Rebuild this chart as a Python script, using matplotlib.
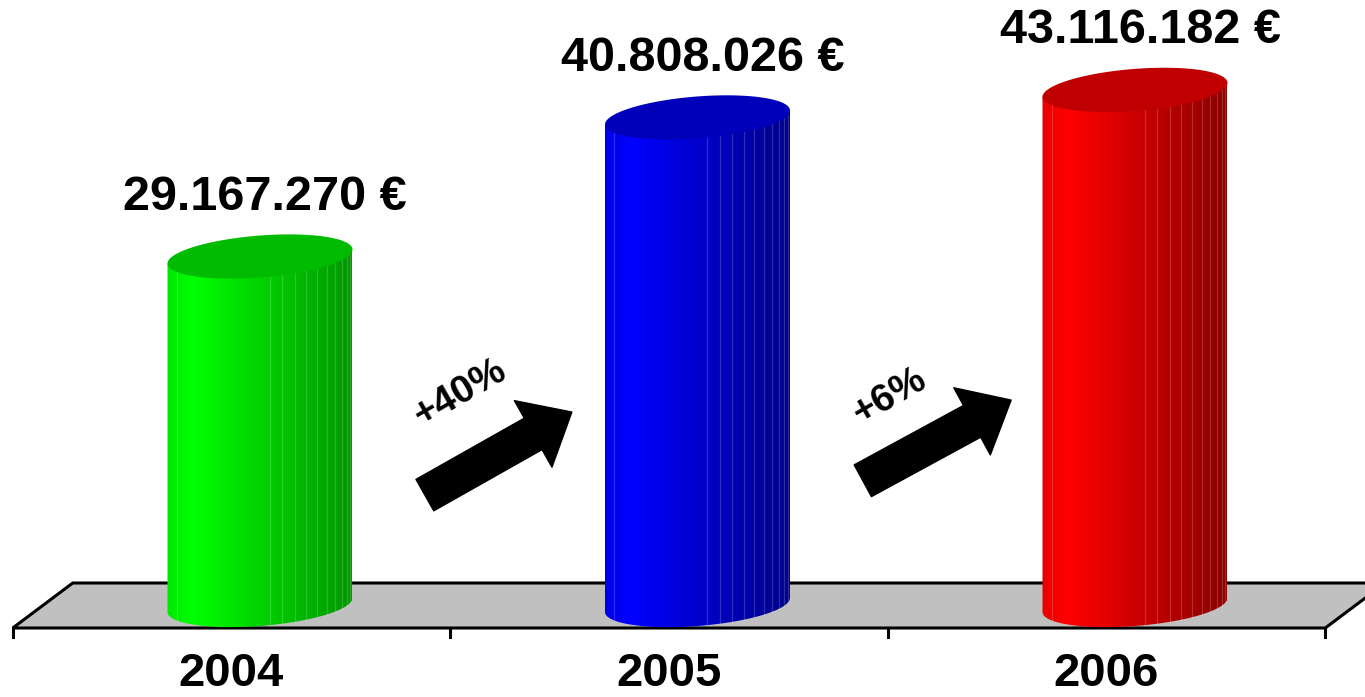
import numpy as np
import matplotlib.pyplot as plt
from matplotlib.patches import Polygon, PathPatch
from matplotlib.path import Path
from matplotlib.colors import LinearSegmentedColormap

plt.rcParams['font.family'] = ['Liberation Sans', 'DejaVu Sans']

# data
years = ['2004', '2005', '2006']
values = [29167270, 40808026, 43116182]
value_labels = ['29.167.270 €', '40.808.026 €', '43.116.182 €']
growth = ['+40%', '+6%']

# colours: left edge, brightest, right edge, top
body_left = ['#00e800', '#0000e8', '#e80000']
body_bright = ['#00ff00', '#0000ff', '#ff0000']
body_dark = ['#009600', '#000088', '#8a0000']
top_col = ['#00bb00', '#0000bb', '#c00000']

# arrows between bars (tail -> tip), and text spots
arrow_tail = [(0.442, 9.2e6), (1.443, 10.4e6)]
arrow_tip = [(0.778, 16.15e6), (1.782, 17.15e6)]
growth_pos = [(0.523, 17.75e6), (1.505, 17.4e6)]

py = 83700.0          # euros per pixel (vertical)
px = 1 / 437.5        # category units per pixel (horizontal)

fig = plt.figure(figsize=(13.65, 6.97), dpi=100)
ax = fig.add_axes([0, 0, 1, 1])
ax.set_xlim(-231.5 * px, (1365 - 231.5) * px)
ax.set_ylim(-(697 - 605) * py, 605 * py)
ax.axis('off')

# floor
fy0, fy1 = -23 * py, 22 * py
dx = 60 * px
floor = Polygon([(-0.5, fy0), (2.5, fy0), (2.5 + dx, fy1), (-0.5 + dx, fy1)],
                closed=True, fc='#c0c0c0', ec='black', lw=2.2, zorder=1)
ax.add_patch(floor)
for t in [-0.5, 0.5, 1.5, 2.5]:
    ax.plot([t, t], [fy0, fy0 - 9 * py], color='black', lw=2.2, zorder=1)

# cylinders
r = 92.5 * px
b = 21 * py
tilt = 7 * py
off = 28.5 * px
t_low = np.linspace(np.pi, 2 * np.pi, 80)
t_all = np.linspace(0, 2 * np.pi, 160)
for i, v in enumerate(values):
    xc = i + off
    x0, x1 = xc - r, xc + r
    # body outline: left side, bottom arc, right side
    bx = xc + r * np.cos(t_low)
    by = b * np.sin(t_low) + tilt * np.cos(t_low)
    verts = [(x0, v - tilt)] + list(zip(bx, by)) + [(x1, v + tilt), (x0, v - tilt)]
    path = Path(verts, closed=True)
    clip = PathPatch(path, fc='none', ec='none')
    ax.add_patch(clip)
    cmap = LinearSegmentedColormap.from_list(
        'c%d' % i, [(0, body_left[i]), (0.14, body_bright[i]), (1, body_dark[i])])
    grad = np.linspace(0, 1, 256).reshape(1, -1)
    im = ax.imshow(grad, cmap=cmap, extent=[x0, x1, -b - tilt, v + tilt],
                   aspect='auto', origin='lower', zorder=2, interpolation='bilinear')
    im.set_clip_path(clip)
    # facet lines
    us = [-0.9] + list(np.sin(np.radians(np.arange(6, 80, 8))))
    for u in us:
        xx = xc + r * u
        yb = -b * np.sqrt(1 - u * u) + tilt * u
        yt = v - b * np.sqrt(1 - u * u) + tilt * u
        ax.plot([xx, xx], [yb, yt], color='white', alpha=0.18, lw=0.9, zorder=3)
    # top
    tx = xc + r * np.cos(t_all)
    ty = v + b * np.sin(t_all) + tilt * np.cos(t_all)
    ax.add_patch(Polygon(np.column_stack([tx, ty]), closed=True,
                         fc=top_col[i], ec='none', zorder=4))
    # value label
    ax.text(xc + 5 * px, v + 3.9e6, value_labels[i], ha='center', va='baseline',
            fontsize=35, fontweight='bold', zorder=5)
    # year label
    ax.text(i, -81 * py, years[i], ha='center', va='baseline',
            fontsize=34, fontweight='bold', zorder=5)

# growth arrows
for k in range(len(growth)):
    ax.annotate('', xy=arrow_tip[k], xytext=arrow_tail[k],
                arrowprops=dict(arrowstyle='simple,head_length=32,head_width=55,tail_width=26',
                                mutation_scale=1, fc='black', ec='black',
                                shrinkA=0, shrinkB=0), zorder=5)
    ax.text(growth_pos[k][0], growth_pos[k][1], growth[k], rotation=30,
            rotation_mode='anchor', ha='center', va='center',
            fontsize=28, fontweight='bold', zorder=5)

fig.savefig('out.png', dpi=100)
